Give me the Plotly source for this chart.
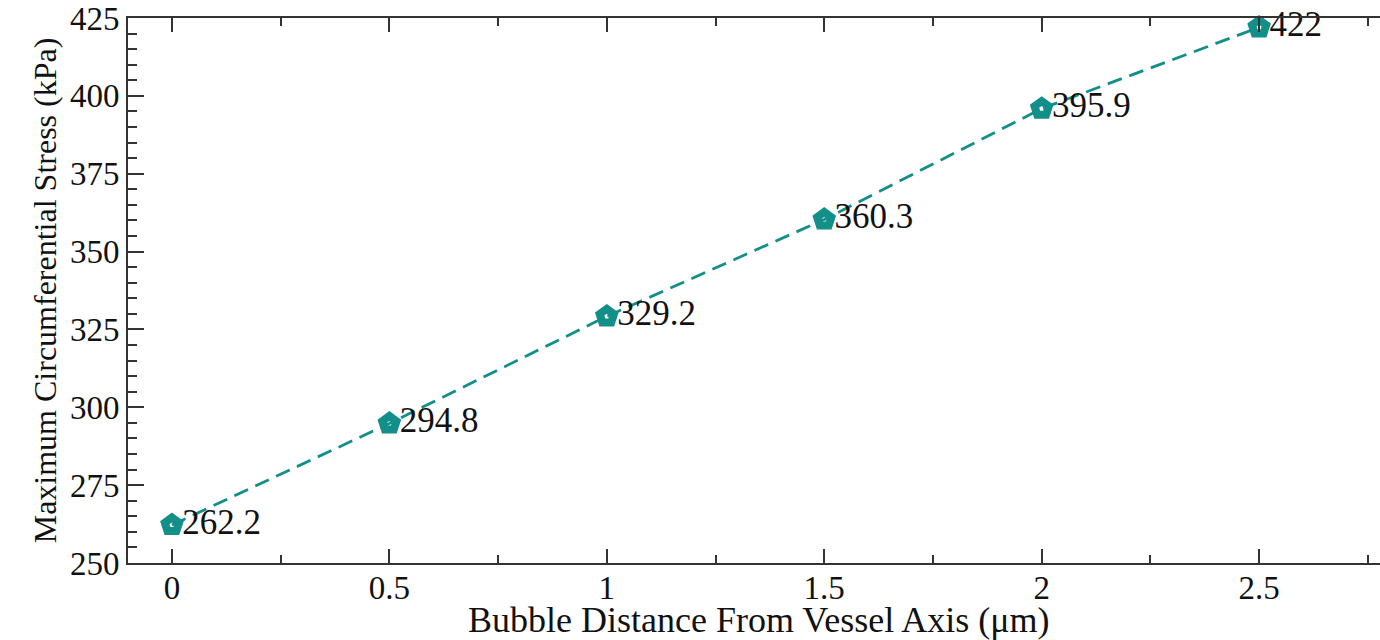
import plotly.graph_objects as go

distance = [0, 0.5, 1, 1.5, 2, 2.5]
stress = [262.2, 294.8, 329.2, 360.3, 395.9, 422]
labels = ["262.2", "294.8", "329.2", "360.3", "395.9", "422"]
y_ticks = [250, 275, 300, 325, 350, 375, 400, 425]
x_ticks = [0, 0.5, 1, 1.5, 2, 2.5]
x_ticklabels = ["0", "0.5", "1", "1.5", "2", "2.5"]

TEAL = "#128f89"
FONT = "Liberation Serif"

fig = go.Figure()
fig.add_trace(go.Scatter(
    x=distance, y=stress, mode="lines+markers+text",
    text=labels, textposition="middle right",
    textfont=dict(family=FONT, size=35, color="#111"),
    line=dict(color=TEAL, width=2.8, dash="15px,8px"),
    marker=dict(symbol="pentagon-open", size=15, color=TEAL, line=dict(color=TEAL, width=8)),
    cliponaxis=False, showlegend=False,
))

fig.update_layout(
    width=1380, height=640,
    margin=dict(l=128, r=0, t=18, b=77, autoexpand=False),
    paper_bgcolor="white", plot_bgcolor="white",
    font=dict(family=FONT, color="#111"),
)
fig.update_xaxes(
    range=[-0.101, 2.778], tickvals=x_ticks, ticktext=x_ticklabels,
    ticks="inside", ticklen=14, tickwidth=2, tickcolor="#333",
    minor=dict(dtick=0.25, tick0=0, ticks="inside", ticklen=8, tickwidth=2, tickcolor="#333", showgrid=False),
    showline=True, linecolor="#333", linewidth=2, mirror="ticks",
    showgrid=False, zeroline=False, ticklabelstandoff=-6, automargin=False,
    tickfont=dict(family=FONT, size=33, color="#111"),
)
fig.update_yaxes(
    range=[250, 425], tickvals=y_ticks,
    ticks="inside", ticklen=16, tickwidth=2, tickcolor="#333",
    minor=dict(dtick=5, tick0=250, ticks="inside", ticklen=9, tickwidth=2, tickcolor="#333", showgrid=False),
    showline=True, linecolor="#333", linewidth=2, mirror=False,
    showgrid=False, zeroline=False, ticklabeloverflow="allow", automargin=False,
    tickfont=dict(family=FONT, size=33, color="#111"),
    title=dict(text="Maximum Circumferential Stress (kPa)", font=dict(family=FONT, size=32, color="#111"), standoff=4),
)
fig.add_annotation(
    text="Bubble Distance From Vessel Axis (μm)", xref="paper", yref="paper",
    x=0.504, y=-0.104, xanchor="center", yanchor="middle", showarrow=False,
    font=dict(family=FONT, size=36, color="#111"),
)

fig.write_html(
    "out.html",
    config={"displayModeBar": False, "staticPlot": True},
    post_script="document.body.style.margin='0px';document.body.style.overflow='hidden';",
)
